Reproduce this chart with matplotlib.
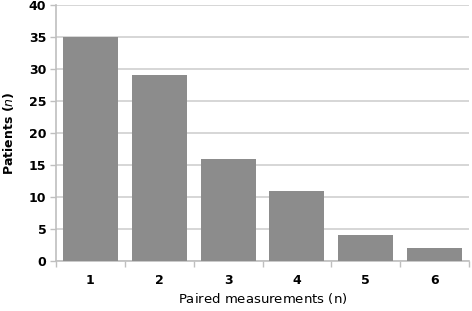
import matplotlib
matplotlib.use("Agg")
import matplotlib.pyplot as plt
import numpy as np

# data
categories = ["1", "2", "3", "4", "5", "6"]
patients = [35, 29, 16, 11, 4, 2]
y_ticks = [0, 5, 10, 15, 20, 25, 30, 35, 40]

plt.rcParams['font.family'] = ['DejaVu Sans']

fig = plt.figure(figsize=(4.72, 3.11), dpi=100)
ax = fig.add_axes([56 / 472, 50 / 311, 413 / 472, 256 / 311])

x = np.arange(1, len(categories) + 1)
ax.bar(x, patients, width=0.8, color="#8c8c8c", zorder=3)

ax.set_xlim(0.5, len(categories) + 0.5)
ax.set_ylim(0, 40)
ax.set_yticks(y_ticks)
ax.set_xticks(x)
ax.set_xticklabels(categories)
ax.set_xticks(np.arange(0.5, len(categories) + 1, 1), minor=True)

ax.grid(axis="y", color="#d0d0d0", linewidth=1.2, zorder=0)
for s in ["top", "right"]:
    ax.spines[s].set_visible(False)
for s in ["left", "bottom"]:
    ax.spines[s].set_color("#bfbfbf")
    ax.spines[s].set_linewidth(1.2)

ax.tick_params(axis="x", which="major", length=0, pad=9, labelsize=9)
ax.tick_params(axis="x", which="minor", length=4, color="#bfbfbf", width=1)
ax.tick_params(axis="y", length=4, color="#bfbfbf", width=1, labelsize=9, pad=3)
for lbl in ax.get_xticklabels() + ax.get_yticklabels():
    lbl.set_fontweight("bold")

ax.set_xlabel(r"Paired measurements ($\mathregular{n}$)", fontsize=9.5, labelpad=3)
ax.set_ylabel(r"Patients ($\it{n}$)", fontsize=9, fontweight="bold", labelpad=9)

fig.savefig("out.png", dpi=100)
